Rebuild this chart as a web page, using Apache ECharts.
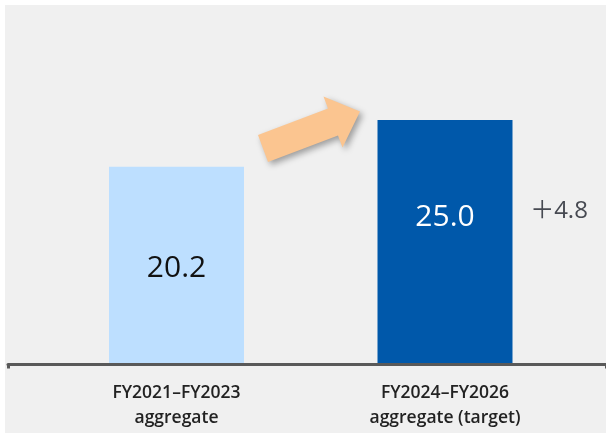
<!DOCTYPE html>
<html>
<head>
<meta charset="utf-8">
<script src="https://cdn.jsdelivr.net/npm/echarts@6/dist/echarts.min.js"></script>
<style>
html,body{margin:0;padding:0;background:#fff;}
#chart{width:606px;height:433px;}
</style>
</head>
<body>
<div id="chart"></div>
<script>
const categories = ['FY2021–FY2023\naggregate', 'FY2024–FY2026\naggregate (target)'];
const values = [20.2, 25.0];
const barColors = ['#bddfff', '#0058aa'];
const labelColors = ['#111111', '#ffffff'];
const labelPositions = [['50%', '52%'], ['50%', '40%']];
const diff = values[1] - values[0];
const diffText = '\uFF0B' + diff.toFixed(1);
const diffAnchorValue = 15.6;

const chart = echarts.init(document.getElementById('chart'), null, {renderer: 'canvas'});

const option = {
  backgroundColor: '#ffffff',
  animation: false,
  graphic: [
    {
      type: 'rect', z: -10, silent: true,
      shape: {x: 5, y: 5, width: 601, height: 428},
      style: {fill: '#f0f0f0'}
    },
    {
      type: 'polygon', z: 5,
      shape: {points: [[258,135],[328,108.5],[323.5,96.5],[360,111.5],[342.5,147.5],[338,135.5],[268,162]]},
      style: {fill: '#fbc590', shadowBlur: 6, shadowOffsetX: 3, shadowOffsetY: 3, shadowColor: 'rgba(0,0,0,0.35)'}
    }
  ],
  grid: [
    {left: 42.25, right: 26.75, top: 71.4, bottom: 70},
    {left: 8, right: 0, top: 71.4, bottom: 68.5}
  ],
  xAxis: [
    {
      type: 'category', gridIndex: 0, data: categories,
      axisLine: {show: false}, axisTick: {show: false},
      axisLabel: {
        interval: 0, margin: 18,
        fontFamily: 'Open Sans', fontWeight: 600, fontSize: 17.5,
        color: '#222222', lineHeight: 25, align: 'center'
      }
    },
    {
      type: 'value', gridIndex: 1, min: 0, max: 1, interval: 1,
      axisLine: {show: true, lineStyle: {color: '#595959', width: 3}},
      axisTick: {show: true, length: 4, lineStyle: {color: '#595959', width: 3}},
      axisLabel: {show: false}, splitLine: {show: false}, z: 10
    }
  ],
  yAxis: [
    {type: 'value', gridIndex: 0, min: 0, max: 30, show: false, splitLine: {show: false}},
    {type: 'value', gridIndex: 1, min: 0, max: 1, show: false, splitLine: {show: false}}
  ],
  series: [
    {
      type: 'bar', xAxisIndex: 0, yAxisIndex: 0, barWidth: 135,
      data: values.map((v, i) => ({
        value: v,
        itemStyle: {color: barColors[i]},
        label: {
          show: true, position: labelPositions[i], align: 'center', verticalAlign: 'middle',
          formatter: v.toFixed(1), color: labelColors[i],
          fontFamily: 'Open Sans', fontSize: 30, fontWeight: 500
        }
      })),
      markPoint: {
        symbol: 'circle', symbolSize: 0,
        data: [{
          coord: [categories[1], diffAnchorValue],
          label: {
            show: true, formatter: diffText, offset: [114, 0],
            color: '#474a52', fontFamily: "'Open Sans', 'Noto Sans CJK JP'", fontSize: 24, fontWeight: 400
          }
        }]
      }
    }
  ]
};
chart.setOption(option);
</script>
</body>
</html>
